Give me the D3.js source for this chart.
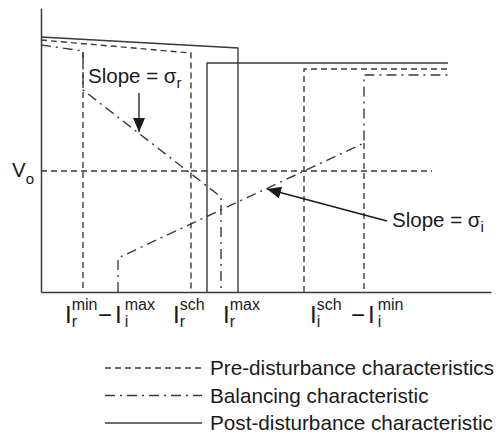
<!DOCTYPE html>
<html>
<head>
<meta charset="utf-8">
<script src="https://cdn.jsdelivr.net/npm/d3@7"></script>
<style>
  body { margin: 0; background: #fff; }
  text { font-family: "Liberation Sans", Arial, sans-serif; fill: #1a1a1a; }
</style>
</head>
<body>
<div id="chart"></div>
<script>
// characteristic curves, in chart units (current along x, voltage along y)
const postRect = [[0, 255], [197, 244], [197, 0]];
const postInv = [[166, 0], [166, 229], [407, 229]];
const preRect = [[0, 252], [150, 239], [150, 0]];
const preRectMin = [[42, 240], [42, 0]];
const preInv = [[263, 0], [263, 223], [407, 223]];
const preInvMin = [[323, 149], [323, 0]];
const voLine = [[0, 121], [391, 121]];
const balRect = [[0, 247], [42, 241], [42, 202], [180, 95], [180, 0]];
const balInv = [[77, 0], [77, 34], [323, 149], [323, 217], [407, 217]];

// slope annotations
const slopeFrom = [[98, 199], [346, 71]];
const slopeTo = [[98, 160], [226, 103]];
const slopeSub = ["r", "i"];
const slopeTextAt = [[47, 209], [351, 65]];

// x axis labels
const tickAt = [24, 57, 132, 182, 269, 310];
const tickMain = ["I", "\u2212I", "I", "I", "I", "\u2212I"];
const tickSup = ["min", "max", "sch", "max", "sch", "min"];
const tickSub = ["r", "i", "r", "r", "i", "i"];

const legendNames = ["Pre-disturbance characteristics", "Balancing characteristic", "Post-disturbance characteristic"];

const w = 504, h = 437;
const ink = "#3a3a3a";
const dashed = "6,4";
const dashDot = "10,5,2,5";

const svg = d3.select("#chart").append("svg")
  .attr("width", w)
  .attr("height", h);

const x = d3.scaleLinear().domain([0, 450]).range([41, 491]);
const y = d3.scaleLinear().domain([0, 284]).range([292, 8]);

svg.append("defs").append("marker")
  .attr("id", "head")
  .attr("markerUnits", "userSpaceOnUse")
  .attr("viewBox", "0 0 14 12")
  .attr("refX", 14).attr("refY", 6)
  .attr("markerWidth", 14).attr("markerHeight", 12)
  .attr("orient", "auto")
  .append("path")
  .attr("d", "M0,0L14,6L0,12Z")
  .attr("fill", "#1a1a1a");

// axes (just the domain lines)
svg.append("g")
  .attr("transform", `translate(0,${y(0)})`)
  .call(d3.axisBottom(x).tickValues([]).tickSizeOuter(0))
  .select(".domain").attr("stroke", ink).attr("stroke-width", 1.5);

svg.append("g")
  .attr("transform", `translate(${x(0)},0)`)
  .call(d3.axisLeft(y).tickValues([]).tickSizeOuter(0))
  .select(".domain").attr("stroke", ink).attr("stroke-width", 1.5);

const line = d3.line().x(d => x(d[0])).y(d => y(d[1]));

const curves = [
  [preRect, dashed], [preRectMin, dashed], [preInv, dashed], [preInvMin, dashed], [voLine, dashed],
  [balRect, dashDot], [balInv, dashDot],
  [postRect, null], [postInv, null]
];

svg.selectAll("path.curve")
  .data(curves)
  .enter().append("path")
  .attr("class", "curve")
  .attr("d", d => line(d[0]))
  .attr("fill", "none")
  .attr("stroke", ink)
  .attr("stroke-width", 1.4)
  .attr("stroke-dasharray", d => d[1]);

// slope arrows
svg.selectAll("path.arrow")
  .data(slopeFrom)
  .enter().append("path")
  .attr("class", "arrow")
  .attr("d", (d, i) => line([d, slopeTo[i]]))
  .attr("stroke", "#1a1a1a")
  .attr("stroke-width", 1.3)
  .attr("marker-end", "url(#head)");

const slopeText = svg.selectAll("text.slope")
  .data(slopeTextAt)
  .enter().append("text")
  .attr("class", "slope")
  .attr("x", d => x(d[0]))
  .attr("y", d => y(d[1]))
  .attr("font-size", "20.5px");
slopeText.append("tspan").text("Slope = \u03c3");
slopeText.append("tspan")
  .attr("dy", 5)
  .attr("font-size", "15px")
  .text((d, i) => slopeSub[i]);

// V_o label
const vo = svg.append("text")
  .attr("x", 12)
  .attr("y", y(voLine[0][1]) + 6)
  .attr("font-size", "20.5px");
vo.append("tspan").text("V");
vo.append("tspan").attr("dy", 7).attr("font-size", "15px").text("o");

// x labels: big I with stacked superscript and subscript
tickAt.forEach((v, i) => {
  const g = svg.append("g").attr("transform", `translate(${x(v)},323)`);
  const main = g.append("text").attr("font-size", "24px").text(tickMain[i]);
  if (tickMain[i].length > 1) main.attr("letter-spacing", "3px");
  const mw = main.node().getComputedTextLength();
  g.append("text").attr("x", mw).attr("y", -13).attr("font-size", "16px").text(tickSup[i]);
  g.append("text").attr("x", mw).attr("y", 4).attr("font-size", "16px").text(tickSub[i]);
});

// legend
const legend = svg.append("g").attr("transform", "translate(105,368)");
const item = legend.selectAll("g")
  .data(legendNames)
  .enter().append("g")
  .attr("transform", (d, i) => `translate(0,${i * 27.5})`);
item.append("line")
  .attr("x1", 0).attr("x2", 97)
  .attr("stroke", ink)
  .attr("stroke-width", 1.4)
  .attr("stroke-dasharray", (d, i) => [dashed, dashDot, null][i]);
item.append("text")
  .attr("x", 105)
  .attr("y", 7)
  .attr("font-size", "20.7px")
  .text(d => d);
</script>
</body>
</html>
